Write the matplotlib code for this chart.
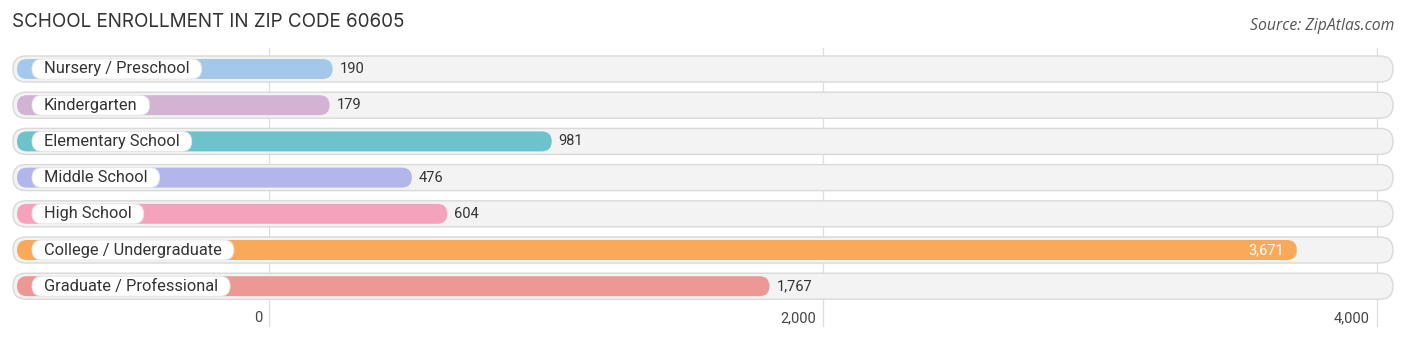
import matplotlib
matplotlib.use('Agg')
import matplotlib.pyplot as plt
from matplotlib.patches import FancyBboxPatch

categories = ['Nursery / Preschool', 'Kindergarten', 'Elementary School',
              'Middle School', 'High School', 'College / Undergraduate',
              'Graduate / Professional']
values = [190, 179, 981, 476, 604, 3671, 1767]
colors = ['#a4c8ea', '#d3b3d4', '#6cc3cb', '#b3b6ea', '#f5a3bd',
          '#f8aa5a', '#ec9895']
ticks = [0, 2000, 4000]
tick_labels = ['0', '2,000', '4,000']

W, H = 1406, 342
ppu = 554 / 2000.0          # pixels per data unit
x0_px = 269                  # pixel of value 0
row0_px, row_step = 69, 36.2
upp = 1 / ppu                # data units per pixel

fig = plt.figure(figsize=(W / 100, H / 100), dpi=100)
ax = fig.add_axes([0, 0, 1, 1])
ax.set_xlim(-x0_px * upp, (W - x0_px) * upp)
ax.set_ylim((H - row0_px) / row_step, -row0_px / row_step)
ax.axis('off')
fig.patch.set_facecolor('white')

asp = (1 / row_step) / upp   # y-units per x-unit at pixel scale

def px(p):
    return (p - x0_px) * upp

def py(p):
    return (p - row0_px) / row_step

# gridlines
for t, lab in zip(ticks, tick_labels):
    ax.plot([t, t], [py(48), py(326)], color='#dddddd', lw=0.9, zorder=0.5)
    ax.text(t - 7 * upp, py(318), lab, ha='right',
            va='center', fontsize=10.5, color='#444444', family='Roboto')

for i, (cat, v, c) in enumerate(zip(categories, values, colors)):
    # background track
    h = 26 / row_step
    bg = FancyBboxPatch((px(13), i - h / 2), px(1393) - px(13), h,
                        boxstyle='round,pad=0,rounding_size=%f' % (13 * upp),
                        mutation_aspect=asp, facecolor='#f3f3f3',
                        edgecolor='#d9d9d9', lw=1.0, zorder=1)
    ax.add_patch(bg)
    # value bar
    hb = 20 / row_step
    end = v + 11 * upp
    bar = FancyBboxPatch((px(17), i - hb / 2), end - px(17), hb,
                         boxstyle='round,pad=0,rounding_size=%f' % (10 * upp),
                         mutation_aspect=asp, facecolor=c, edgecolor='none',
                         zorder=2)
    ax.add_patch(bar)
    # label pill
    t = ax.text(px(44), i, cat, ha='left', va='center', fontsize=11.8,
                color='#333333', family='Roboto', zorder=4)
    fig.canvas.draw()
    wpx = t.get_window_extent().width
    hp = 20 / row_step
    pill = FancyBboxPatch((px(32), i - hp / 2), (wpx + 24) * upp, hp,
                          boxstyle='round,pad=0,rounding_size=%f' % (10 * upp),
                          mutation_aspect=asp, facecolor='white',
                          edgecolor='#e6e6e6', lw=0.6, zorder=3)
    ax.add_patch(pill)
    # value label
    lab = f'{v:,}'
    if v > 3000:
        ax.text(end - 13 * upp, i, lab, ha='right', va='center', fontsize=10.5,
                color='white', family='Roboto', zorder=4)
    else:
        ax.text(end + 7 * upp, i, lab, ha='left', va='center', fontsize=10.5,
                color='#333333', family='Roboto', zorder=4)

fig.text(12 / W, 1 - 22 / H, 'SCHOOL ENROLLMENT IN ZIP CODE 60605',
         ha='left', va='center', fontsize=13.6, color='#333333', family='Inter')
fig.text(1394 / W, 1 - 26 / H, 'Source: ZipAtlas.com', ha='right',
         va='center', fontsize=11.3, color='#555555', style='italic',
         family='Open Sans')

fig.savefig('out.png', dpi=100)
